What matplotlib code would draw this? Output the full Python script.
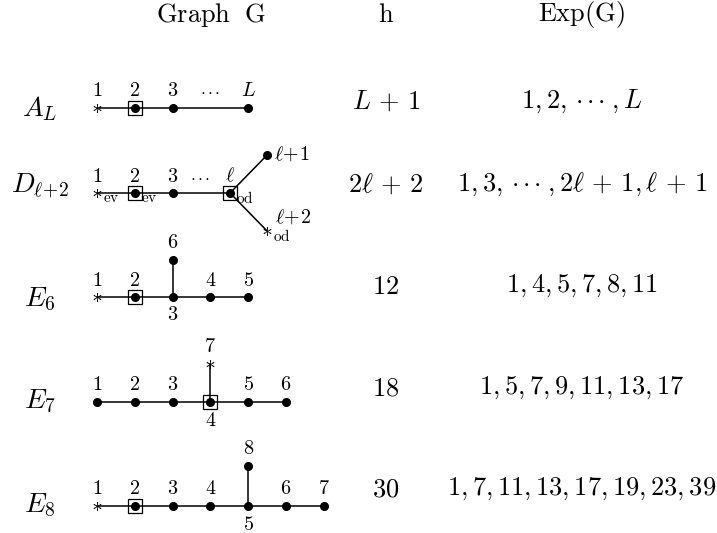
import matplotlib
matplotlib.use("Agg")
import matplotlib.pyplot as plt

plt.rcParams['mathtext.fontset'] = 'cm'
plt.rcParams['font.family'] = 'serif'
plt.rcParams['font.serif'] = ['DejaVu Serif']

DOTS = r'{\cdot}\,{\cdot}\,{\cdot}'

# table content
names = [r'$A_L$', r'$D_{\ell\!+\!2}$', r'$E_6$', r'$E_7$', r'$E_8$']
h_vals = [r'$L\,+\,1$', r'$2\ell\,+\,2$', r'$12$', r'$18$', r'$30$']
exps = [r'$1,2,\,' + DOTS + r'\;,L$',
        r'$1,3,\,' + DOTS + r'\;,2\ell\,+\,1,\ell\,+\,1$',
        r'$1,4,5,7,8,11$',
        r'$1,5,7,9,11,13,17$',
        r'$1,7,11,13,17,19,23,39$']

# graphs: nodes as (label, chain position, branch offset, kind, label side, subscript)
# kind: 'dot', 'box' (boxed dot), 'star'
graph_A = [('1', 0, 0, 'star', 'up', ''), ('2', 1, 0, 'box', 'up', ''),
           ('3', 2, 0, 'dot', 'up', ''), ('L', 4, 0, 'dot', 'up', '')]
edges_A = [(0, 1), (1, 2), (2, 3)]

graph_D = [('1', 0, 0, 'star', 'up', 'ev'), ('2', 1, 0, 'box', 'up', 'ev'),
           ('3', 2, 0, 'dot', 'up', ''), (r'\ell', 3.52, 0, 'box', 'up', 'od'),
           (r'\ell\!+\!1', 4.5, -1, 'dot', 'right', ''),
           (r'\ell\!+\!2', 4.5, 1, 'star', 'upright', 'od')]
edges_D = [(0, 1), (1, 2), (2, 3), (3, 4), (3, 5)]

graph_E6 = [('1', 0, 0, 'star', 'up', ''), ('2', 1, 0, 'box', 'up', ''),
            ('3', 2, 0, 'dot', 'down', ''), ('4', 3, 0, 'dot', 'up', ''),
            ('5', 4, 0, 'dot', 'up', ''), ('6', 2, -1, 'dot', 'up', '')]
edges_E6 = [(0, 1), (1, 2), (2, 3), (3, 4), (2, 5)]

graph_E7 = [('1', 0, 0, 'dot', 'up', ''), ('2', 1, 0, 'dot', 'up', ''),
            ('3', 2, 0, 'dot', 'up', ''), ('4', 3, 0, 'box', 'down', ''),
            ('5', 4, 0, 'dot', 'up', ''), ('6', 5, 0, 'dot', 'up', ''),
            ('7', 3, -1, 'star', 'up', '')]
edges_E7 = [(0, 1), (1, 2), (2, 3), (3, 4), (4, 5), (3, 6)]

graph_E8 = [('1', 0, 0, 'star', 'up', ''), ('2', 1, 0, 'box', 'up', ''),
            ('3', 2, 0, 'dot', 'up', ''), ('4', 3, 0, 'dot', 'up', ''),
            ('5', 4, 0, 'dot', 'down', ''), ('6', 5, 0, 'dot', 'up', ''),
            ('7', 6, 0, 'dot', 'up', ''), ('8', 4, -1, 'dot', 'up', '')]
edges_E8 = [(0, 1), (1, 2), (2, 3), (3, 4), (4, 5), (5, 6), (4, 7)]

graphs = [(graph_A, edges_A), (graph_D, edges_D), (graph_E6, edges_E6),
          (graph_E7, edges_E7), (graph_E8, edges_E8)]
dots_pos = [3, 2.72, None, None, None]  # where the "..." goes

# layout (pixels)
W, H = 717, 533
x0, dx = 97, 37.8
row_y = [108, 193, 297, 402, 506]
name_y = [109, 186, 299, 401, 505]
text_y = [101, 184, 286, 388, 489]
branch_dy = [38, 38, 37, 38, 40]

fig = plt.figure(figsize=(W / 100, H / 100), dpi=100)
ax = fig.add_axes([0, 0, 1, 1])
ax.set_xlim(0, W)
ax.set_ylim(H, 0)
ax.axis('off')

big = 19
small = 14.5

ax.text(211, 15, r'$\mathrm{Graph\ \ G}$', fontsize=big, ha='center', va='center')
ax.text(386, 15, r'$\mathrm{h}$', fontsize=big, ha='center', va='center')
ax.text(582, 15, r'$\mathrm{Exp(G)}$', fontsize=big, ha='center', va='center')

for i in range(5):
    ax.text(40, name_y[i], names[i], fontsize=big + 1, ha='center', va='center')
    ax.text(386, text_y[i], h_vals[i], fontsize=big, ha='center', va='center')
    ax.text(582, text_y[i], exps[i], fontsize=big, ha='center', va='center')

    nodes, edges = graphs[i]
    xs = [x0 + n[1] * dx for n in nodes]
    ys = [row_y[i] + n[2] * branch_dy[i] for n in nodes]
    for a, b in edges:
        ax.plot([xs[a], xs[b]], [ys[a], ys[b]], color='black', lw=1.1, zorder=1)
    for (lab, p, off, kind, side, sub), x, y in zip(nodes, xs, ys):
        if kind == 'star':
            ax.plot(x, y, marker=r'$\ast$', color='black', ms=6.5, mew=0, zorder=3)
        else:
            ax.plot(x, y, 'o', color='black', ms=5.5, zorder=3)
            if kind == 'box':
                ax.plot(x, y, 's', mfc='none', mec='black', mew=0.9, ms=9.5, zorder=3)
        if side == 'up':
            ax.text(x, y - 17, '$' + lab + '$', fontsize=small, ha='center', va='center')
        elif side == 'down':
            ax.text(x, y + 18, '$' + lab + '$', fontsize=small, ha='center', va='center')
        elif side == 'right':
            ax.text(x + 7, y - 1, '$' + lab + '$', fontsize=small, ha='left', va='center')
        elif side == 'upright':
            ax.text(x + 26, y - 14, '$' + lab + '$', fontsize=small, ha='center', va='center')
        if sub:
            ax.text(x + 6, y + 5, r'$\mathrm{' + sub + '}$', fontsize=11, ha='left', va='center')
    if dots_pos[i] is not None:
        ax.text(x0 + dots_pos[i] * dx, row_y[i] - 17, '$' + DOTS + '$', fontsize=small - 2,
                ha='center', va='center')

fig.savefig('out.png', dpi=100)
